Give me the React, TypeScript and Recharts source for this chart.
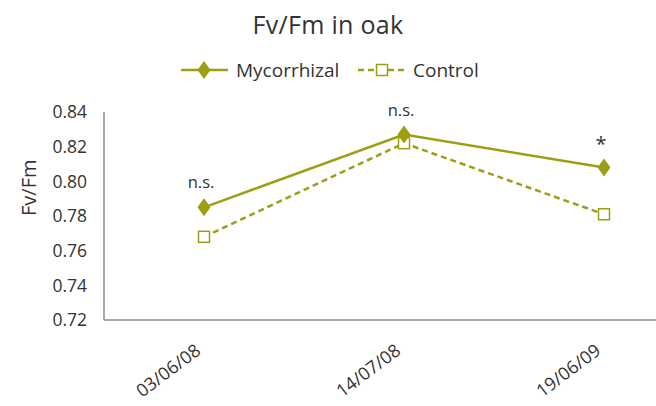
import React from "react";
import { LineChart, Line, XAxis, YAxis, LabelList } from "recharts";

const dates = ["03/06/08", "14/07/08", "19/06/09"];
const mycorrhizal = [0.785, 0.827, 0.808];
const control = [0.768, 0.822, 0.781];
const significance = ["n.s.", "n.s.", "*"];
const yTicks = [0.72, 0.74, 0.76, 0.78, 0.8, 0.82, 0.84];

const data = dates.map((d, i) => ({
  date: d,
  mycorrhizal: mycorrhizal[i],
  control: control[i],
  sig: significance[i],
}));

const OLIVE = "#9e9e14";
const TEXT = "#333333";
const FONT = "'Open Sans', Lato, sans-serif";

function Diamond({ cx, cy }: any) {
  if (cx == null || cy == null) return null;
  return (
    <polygon
      points={`${cx},${cy - 9} ${cx + 6.5},${cy} ${cx},${cy + 9} ${cx - 6.5},${cy}`}
      fill={OLIVE}
    />
  );
}

function Square({ cx, cy }: any) {
  if (cx == null || cy == null) return null;
  return <rect x={cx - 5.5} y={cy - 5.5} width={11} height={11} fill="#fff" stroke={OLIVE} strokeWidth={1.5} />;
}

function DateTick({ x, y, payload }: any) {
  const ax = x - 2;
  const ay = y + 25;
  return (
    <text
      x={ax}
      y={ay}
      textAnchor="end"
      transform={`rotate(-37 ${ax} ${ay})`}
      fill={TEXT}
      fontSize={18}
      fontFamily={FONT}
    >
      {payload.value}
    </text>
  );
}

function SigLabel({ x, y, value }: any) {
  const star = value === "*";
  return (
    <text x={x - 3} y={y - (star ? 16 : 19)} textAnchor="middle" fill={TEXT} fontSize={star ? 20 : 16.5} fontFamily={FONT}>
      {value}
    </text>
  );
}

export default function App() {
  return (
    <div style={{ position: "absolute", left: 0, top: 0, width: 656, height: 406, background: "#fff", fontFamily: FONT }}>
      <div style={{ position: "absolute", top: 7, width: 656, textAlign: "center", fontSize: 25, color: TEXT, letterSpacing: 0.3 }}>
        Fv/Fm in oak
      </div>
      <svg style={{ position: "absolute", left: 0, top: 0 }} width={656} height={100}>
        <line x1={181} y1={70} x2={228} y2={70} stroke={OLIVE} strokeWidth={2.5} />
        <Diamond cx={204} cy={70} />
        <text x={236} y={77} fontSize={19} fill={TEXT} fontFamily={FONT}>Mycorrhizal</text>
        <line x1={358} y1={70} x2={405} y2={70} stroke={OLIVE} strokeWidth={2.5} strokeDasharray="6 4" />
        <Square cx={382} cy={70} />
        <text x={413} y={77} fontSize={19} fill={TEXT} fontFamily={FONT}>Control</text>
      </svg>
      <LineChart
        width={656}
        height={406}
        data={data}
        margin={{ top: 112, right: 0, bottom: 0, left: 0 }}
        style={{ position: "absolute", left: 0, top: 0 }}
      >
        <XAxis
          dataKey="date"
          scale="point"
          padding={{ left: 100, right: 52 }}
          height={86}
          tickLine={false}
          axisLine={{ stroke: "#8c8c8c", strokeWidth: 1.5 }}
          tick={<DateTick />}
          interval={0}
        />
        <YAxis
          domain={[0.72, 0.84]}
          ticks={yTicks}
          width={104}
          tickLine={false}
          tickMargin={11}
          axisLine={{ stroke: "#8c8c8c", strokeWidth: 1.5 }}
          tick={{ fill: TEXT, fontSize: 17.5, fontFamily: FONT }}
          tickFormatter={(v: number) => v.toFixed(2)}
          label={{ value: "Fv/Fm", angle: -90, position: "insideLeft", offset: 29, fill: TEXT, fontSize: 20, fontFamily: FONT }}
        />
        <Line
          dataKey="control"
          stroke={OLIVE}
          strokeWidth={2.5}
          strokeDasharray="6 4"
          dot={<Square />}
          isAnimationActive={false}
        />
        <Line
          dataKey="mycorrhizal"
          stroke={OLIVE}
          strokeWidth={2.5}
          dot={<Diamond />}
          isAnimationActive={false}
        >
          <LabelList dataKey="sig" content={<SigLabel />} />
        </Line>
      </LineChart>
    </div>
  );
}
